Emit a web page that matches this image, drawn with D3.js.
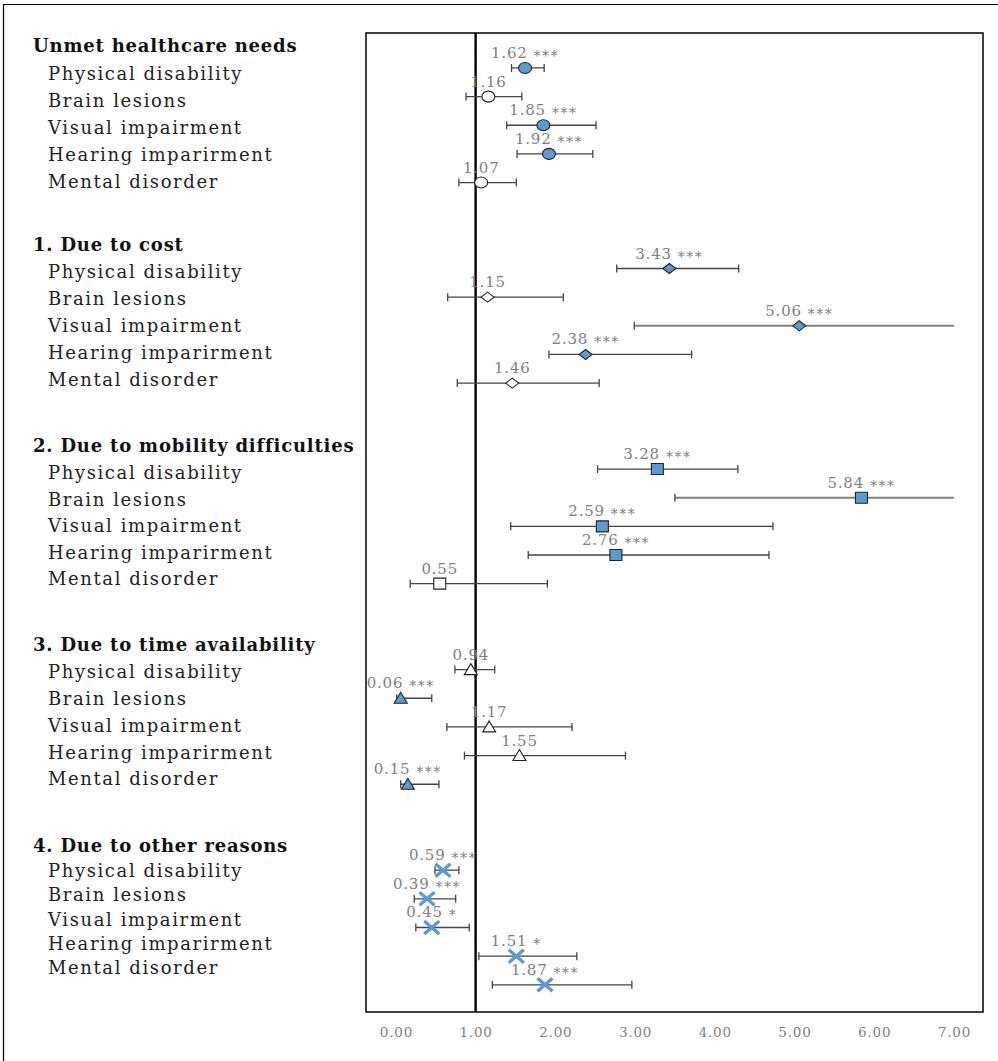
<!DOCTYPE html>
<html>
<head>
<meta charset="utf-8">
<script src="https://cdn.jsdelivr.net/npm/d3@7"></script>
<style>
  body { margin: 0; background: #fff; }
  svg { display: block; }
</style>
</head>
<body>
<svg id="chart"></svg>
<script>
// Odds ratios with 95% CI, grouped by reason for unmet healthcare needs
var groups = [
  "Unmet healthcare needs",
  "1. Due to cost",
  "2. Due to mobility difficulties",
  "3. Due to time availability",
  "4. Due to other reasons"
];
var conditions = ["Physical disability", "Brain lesions", "Visual impairment", "Hearing imparirment", "Mental disorder"];
var shapes = ["circle", "diamond", "square", "triangle", "cross"];

var oddsRatio = [
  [1.62, 1.16, 1.85, 1.92, 1.07],
  [3.43, 1.15, 5.06, 2.38, 1.46],
  [3.28, 5.84, 2.59, 2.76, 0.55],
  [0.94, 0.06, 1.17, 1.55, 0.15],
  [0.59, 0.39, 0.45, 1.51, 1.87]
];
var ciLow = [
  [1.45, 0.88, 1.39, 1.52, 0.79],
  [2.77, 0.65, 2.99, 1.92, 0.77],
  [2.53, 3.50, 1.44, 1.66, 0.18],
  [0.74, 0.01, 0.64, 0.86, 0.06],
  [0.49, 0.23, 0.25, 1.04, 1.21]
];
var ciHigh = [
  [1.86, 1.58, 2.51, 2.47, 1.51],
  [4.30, 2.10, 7.00, 3.71, 2.55],
  [4.29, 7.00, 4.73, 4.68, 1.90],
  [1.24, 0.45, 2.21, 2.88, 0.54],
  [0.79, 0.75, 0.92, 2.27, 2.96]
];
var stars = [
  ["***", "", "***", "***", ""],
  ["***", "", "***", "***", ""],
  ["***", "***", "***", "***", ""],
  ["", "***", "", "", "***"],
  ["***", "***", "*", "*", "***"]
];
var xTicks = [0, 1, 2, 3, 4, 5, 6, 7];

var width = 998, height = 1061;
var box = { left: 366, right: 983, top: 33, bottom: 1012 };
var blue = "#5b9bd5", gray = "#7f7f7f";
var serif = "'DejaVu Serif', 'Liberation Serif', serif";

// flatten into rows: each group = header row + 5 items + blank row
var rows = [];
groups.forEach(function(g, gi) {
  conditions.forEach(function(c, ci) {
    rows.push({
      group: gi, idx: ci, row: gi * 7 + ci,
      or: oddsRatio[gi][ci], lo: ciLow[gi][ci], hi: ciHigh[gi][ci],
      sig: stars[gi][ci], shape: shapes[gi]
    });
  });
});

var xScale = d3.scaleLinear().domain([-0.375, 7.365]).range([box.left, box.right]);
var yScale = d3.scaleLinear().domain([-1.22, 32.95]).range([box.top, box.bottom]);

var svg = d3.select("#chart").attr("width", width).attr("height", height);

// outer frame (left + top edge visible)
svg.append("path")
  .attr("d", "M3.5," + height + "V4.5H" + width)
  .attr("fill", "none").attr("stroke", "#000").attr("stroke-width", 1.2);

// left-hand labels (separate text block)
var labelTop = [46, 245, 446, 645, 846];
var labelStep = [27.2, 27, 26.6, 26.8, 24.4];
var labels = svg.append("g").attr("font-family", serif);
groups.forEach(function(g, gi) {
  labels.append("text")
    .attr("x", 33).attr("y", labelTop[gi])
    .attr("dy", "0.35em")
    .attr("font-size", 18).attr("font-weight", "bold").attr("fill", "#111")
    .attr("letter-spacing", 0.8)
    .text(g);
  conditions.forEach(function(c, ci) {
    labels.append("text")
      .attr("x", 48).attr("y", labelTop[gi] + labelStep[gi] * (ci + 1))
      .attr("dy", "0.35em")
      .attr("font-size", 18).attr("fill", "#222")
      .attr("letter-spacing", 1.6)
      .text(c);
  });
});

// plot box
svg.append("rect")
  .attr("x", box.left).attr("y", box.top)
  .attr("width", box.right - box.left).attr("height", box.bottom - box.top)
  .attr("fill", "none").attr("stroke", "#000").attr("stroke-width", 1.5);

// reference line at OR = 1
svg.append("line")
  .attr("x1", xScale(1)).attr("x2", xScale(1))
  .attr("y1", box.top).attr("y2", box.bottom)
  .attr("stroke", "#000").attr("stroke-width", 2.4);

// x axis labels only
var axis = svg.append("g")
  .attr("transform", "translate(0," + (box.bottom + 12) + ")")
  .call(d3.axisBottom(xScale).tickValues(xTicks).tickSize(0).tickFormat(d3.format(".2f")));
axis.select(".domain").remove();
axis.selectAll("text")
  .attr("font-family", serif).attr("font-size", 13.5).attr("fill", gray)
  .attr("letter-spacing", 0.8);

// error bars
var bars = svg.append("g").selectAll("g").data(rows).enter().append("g");
bars.append("line")
  .attr("x1", d => xScale(d.lo))
  .attr("x2", d => xScale(Math.min(d.hi, 7)))
  .attr("y1", d => yScale(d.row)).attr("y2", d => yScale(d.row))
  .attr("stroke", d => d.hi >= 7 ? "#808080" : "#444")
  .attr("stroke-width", d => d.hi >= 7 ? 2 : 1.3);
bars.append("line")
  .attr("x1", d => xScale(d.lo)).attr("x2", d => xScale(d.lo))
  .attr("y1", d => yScale(d.row) - 4).attr("y2", d => yScale(d.row) + 4)
  .attr("stroke", "#444").attr("stroke-width", 1.3);
bars.filter(d => d.hi < 7).append("line")
  .attr("x1", d => xScale(d.hi)).attr("x2", d => xScale(d.hi))
  .attr("y1", d => yScale(d.row) - 4).attr("y2", d => yScale(d.row) + 4)
  .attr("stroke", "#444").attr("stroke-width", 1.3);

// markers
function markerPath(shape) {
  switch (shape) {
    case "diamond": return "M-6.5,0L0,-5L6.5,0L0,5Z";
    case "square": return "M-6,-5.5H6V5.5H-6Z";
    case "triangle": return "M0,-6L6.5,5H-6.5Z";
    case "cross": return "M-7.5,-6.5L7.5,6.5M-7.5,6.5L7.5,-6.5";
    default: return "M-6.5,0A6.5,5.5 0 1,0 6.5,0A6.5,5.5 0 1,0 -6.5,0Z";
  }
}
var marks = svg.append("g").selectAll("path").data(rows).enter().append("path")
  .attr("transform", d => "translate(" + xScale(d.or) + "," + yScale(d.row) + ")")
  .attr("d", d => markerPath(d.shape));
marks.filter(d => d.shape !== "cross")
  .attr("fill", d => d.sig ? blue : "#fff")
  .attr("stroke", "#222").attr("stroke-width", 1.1);
marks.filter(d => d.shape === "cross")
  .attr("fill", "none").attr("stroke", blue).attr("stroke-width", 3.3);

// value labels: number plus significance stars
var vl = svg.append("g").selectAll("text").data(rows).enter().append("text")
  .attr("x", d => xScale(d.or)).attr("y", d => yScale(d.row) - 10)
  .attr("text-anchor", "middle")
  .attr("font-family", serif).attr("fill", gray);
vl.append("tspan")
  .attr("font-size", 15).attr("letter-spacing", 0.8)
  .text(d => d.or.toFixed(2));
vl.filter(d => d.sig).append("tspan")
  .attr("font-size", 14).attr("letter-spacing", 1.5).attr("dy", 3)
  .text(d => " " + d.sig);
</script>
</body>
</html>
